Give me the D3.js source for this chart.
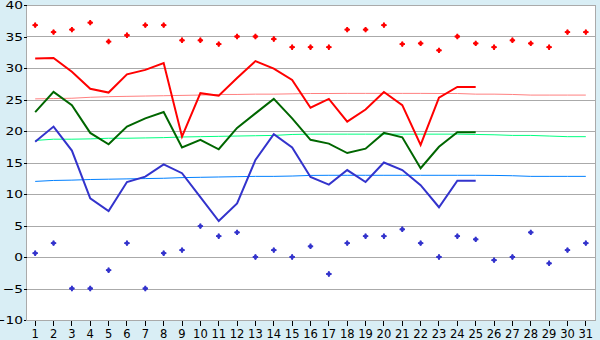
<!DOCTYPE html>
<html>
<head>
<meta charset="utf-8">
<script src="https://cdn.jsdelivr.net/npm/d3@7"></script>
<style>
  body { margin: 0; background: #d9eef5; }
  svg text { font-family: "DejaVu Sans", Verdana, sans-serif; fill: #000; }
</style>
</head>
<body>
<svg id="chart" width="600" height="340"></svg>
<script>
// Days of the month.
var days = d3.range(1, 32);

// Daily maximum / minimum records (diamonds).
var recordMax = [36.8, 35.7, 36.1, 37.2, 34.2, 35.2, 36.8, 36.8, 34.4, 34.4, 33.8, 35.0, 35.0, 34.6, 33.3, 33.3,
                 33.3, 36.1, 36.1, 36.8, 33.8, 33.9, 32.8, 35.0, 33.9, 33.3, 34.4, 33.9, 33.3, 35.7, 35.7];
var recordMin = [0.6, 2.2, -5.0, -5.0, -2.1, 2.2, -5.0, 0.6, 1.1, 4.9, 3.3, 3.9, 0.0, 1.1, 0.0, 1.7,
                 -2.7, 2.2, 3.3, 3.3, 4.4, 2.2, 0.0, 3.3, 2.8, -0.5, 0.0, 3.9, -1.0, 1.1, 2.2];

// Observed max / mean / min (days 1-25).
var obsMax = [31.5, 31.6, 29.4, 26.7, 26.1, 29.0, 29.7, 30.8, 19.1, 26.0, 25.6, 28.4, 31.1, 29.9, 28.1, 23.7,
              25.1, 21.5, 23.4, 26.2, 24.1, 17.8, 25.3, 27.0, 27.0];
var obsMean = [23.0, 26.2, 24.1, 19.7, 17.9, 20.7, 22.0, 23.0, 17.4, 18.6, 17.1, 20.5, 22.8, 25.1, 22.0, 18.6,
               18.0, 16.5, 17.2, 19.7, 19.0, 14.1, 17.5, 19.8, 19.8];
var obsMin = [18.3, 20.7, 16.9, 9.3, 7.3, 11.9, 12.75, 14.7, 13.3, 9.5, 5.7, 8.5, 15.4, 19.5, 17.4, 12.7,
              11.5, 13.8, 11.9, 15.0, 13.8, 11.4, 7.9, 12.1, 12.1];

// Normal values (thin lines).
var normMax = [25.1, 25.15, 25.2, 25.35, 25.45, 25.5, 25.55, 25.6, 25.65, 25.7, 25.8, 25.8, 25.85, 25.85, 25.9, 25.95,
               25.95, 25.97, 25.97, 25.97, 25.97, 25.97, 25.95, 25.95, 25.85, 25.85, 25.8, 25.7, 25.7, 25.7, 25.7];
var normMean = [18.5, 18.7, 18.7, 18.75, 18.85, 18.85, 18.9, 18.95, 19.05, 19.1, 19.15, 19.2, 19.25, 19.3, 19.45, 19.5,
                19.5, 19.5, 19.5, 19.5, 19.5, 19.5, 19.5, 19.5, 19.45, 19.4, 19.3, 19.3, 19.2, 19.1, 19.1];
var normMin = [12.0, 12.15, 12.2, 12.3, 12.35, 12.4, 12.45, 12.5, 12.6, 12.65, 12.7, 12.75, 12.8, 12.8, 12.85, 12.95,
               12.97, 12.97, 12.97, 12.97, 12.97, 12.97, 12.97, 12.97, 12.97, 12.95, 12.9, 12.8, 12.8, 12.8, 12.8];

var yTicks = d3.range(-10, 41, 5);

var svg = d3.select("#chart");

// Plot area.
var plotL = 26, plotR = 595, plotT = 5, plotB = 320;

var x = d3.scaleBand().domain(days).range([plotL, plotR]);
var cx = function(d) { return x(d) + x.bandwidth() / 2; };
var y = d3.scaleLinear().domain([-10, 40]).range([plotB, plotT]);

svg.append("rect")
    .attr("x", plotL).attr("y", plotT)
    .attr("width", plotR - plotL).attr("height", plotB - plotT)
    .attr("fill", "#fff");

// Horizontal grid lines.
svg.append("g")
    .selectAll("line")
    .data(yTicks)
    .enter().append("line")
    .attr("x1", plotL).attr("x2", plotR)
    .attr("y1", function(d) { return Math.round(y(d)) + 0.5; })
    .attr("y2", function(d) { return Math.round(y(d)) + 0.5; })
    .attr("stroke", "#aaa")
    .attr("shape-rendering", "crispEdges");

// Frame.
svg.append("path")
    .attr("d", "M" + (plotL + 0.5) + "," + plotB + "V" + (plotT + 0.5) + "H" + (plotR + 0.5) + "V" + plotB)
    .attr("fill", "none")
    .attr("stroke", "#aaa")
    .attr("shape-rendering", "crispEdges");

// Axes.
var yAxis = d3.axisLeft(y).tickValues(yTicks).tickSize(3).tickPadding(0)
    .tickFormat(function(d) { return d < 0 ? "\u2212" + Math.abs(d) : d; });
var yg = svg.append("g").attr("transform", "translate(" + (plotL + 0.5) + ",0)").call(yAxis);
yg.select(".domain").remove();
yg.selectAll("line").attr("stroke", "#000").attr("shape-rendering", "crispEdges");
// Wide-looking labels: slightly stretched horizontally.
yg.selectAll("text")
    .attr("x", -3.5 / 1.25)
    .attr("transform", "scale(1.25,1)")
    .style("font-size", "11px");

var xAxis = d3.axisBottom(x).tickSize(5).tickPadding(4);
var xg = svg.append("g").attr("transform", "translate(0," + (plotB + 0.5) + ")").call(xAxis);
xg.select(".domain").attr("d", "M" + plotL + ",0H" + (plotR + 1)).attr("stroke", "#aaa");
xg.selectAll("line").attr("stroke", "#000").attr("shape-rendering", "crispEdges");
xg.selectAll("text").style("font-size", "11.5px");
svg.selectAll(".tick text").style("font-family", "DejaVu Sans, Verdana, sans-serif");

// Lines.
function drawLine(values, color, width) {
    var line = d3.line()
        .x(function(d, i) { return cx(days[i]); })
        .y(function(d) { return y(d); });
    svg.append("path")
        .datum(values)
        .attr("d", line)
        .attr("fill", "none")
        .attr("stroke", color)
        .attr("stroke-width", width);
}

drawLine(normMax, "#ff8080", 1);
drawLine(normMean, "#00ff80", 1);
drawLine(normMin, "#0080ff", 1);
drawLine(obsMax, "#ff0000", 2);
drawLine(obsMean, "#006600", 2);
drawLine(obsMin, "#3333cc", 2);

// Record markers.
function drawMarks(values, color) {
    var g = svg.append("g");
    g.selectAll("path.dia")
        .data(values)
        .enter().append("path")
        .attr("class", "dia")
        .attr("d", d3.symbol().type(d3.symbolDiamond2).size(18))
        .attr("transform", function(d, i) { return "translate(" + cx(days[i]) + "," + y(d) + ")"; })
        .attr("fill", color);
    g.selectAll("path.crs")
        .data(values)
        .enter().append("path")
        .attr("class", "crs")
        .attr("d", d3.symbol().type(d3.symbolCross).size(16))
        .attr("transform", function(d, i) { return "translate(" + cx(days[i]) + "," + y(d) + ")"; })
        .attr("fill", color);
}

drawMarks(recordMax, "#ff0000");
drawMarks(recordMin, "#3333cc");
</script>
</body>
</html>
